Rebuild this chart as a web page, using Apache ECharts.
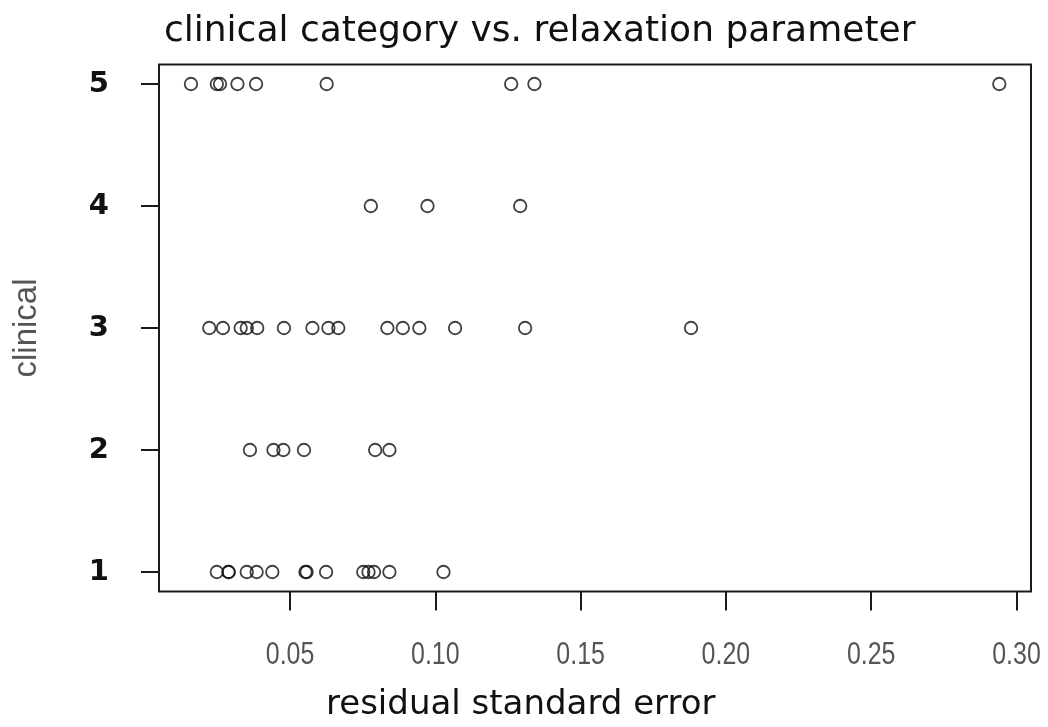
<!DOCTYPE html>
<html>
<head>
<meta charset="utf-8">
<script src="https://cdn.jsdelivr.net/npm/echarts@6/dist/echarts.min.js"></script>
<style>
html,body{margin:0;padding:0;background:#fff;}
#chart{width:1048px;height:727px;}
</style>
</head>
<body>
<div id="chart"></div>
<script>
// residual standard error values for each clinical category
const clinical1 = [0.0248, 0.0288, 0.0289, 0.0351, 0.0385, 0.0439, 0.0553, 0.0557, 0.0624, 0.0752, 0.0770, 0.0789, 0.0842, 0.1028];
const clinical2 = [0.0362, 0.0443, 0.0477, 0.0548, 0.0793, 0.0842];
const clinical3 = [0.0222, 0.0269, 0.0330, 0.0351, 0.0387, 0.0479, 0.0577, 0.0632, 0.0666, 0.0835, 0.0888, 0.0945, 0.1068, 0.1309, 0.1880];
const clinical4 = [0.0778, 0.0973, 0.1292];
const clinical5 = [0.0159, 0.0248, 0.0259, 0.0319, 0.0383, 0.0626, 0.1261, 0.1341, 0.2941];

const categories = [1, 2, 3, 4, 5];
const xTicks = [0.05, 0.10, 0.15, 0.20, 0.25, 0.30];
const xTickLabels = ['0.05', '0.10', '0.15', '0.20', '0.25', '0.30'];
const yTicks = [1, 2, 3, 4, 5];

const titleText = 'clinical category vs. relaxation parameter';
const xName = 'residual standard error';
const yName = 'clinical';

const groups = [clinical1, clinical2, clinical3, clinical4, clinical5];
const points = [];
groups.forEach((arr, i) => arr.forEach(v => points.push([v, categories[i]])));

const chart = echarts.init(document.getElementById('chart'), null, {renderer: 'canvas'});
chart.setOption({
  animation: false,
  backgroundColor: '#ffffff',
  title: [
    {text: titleText, left: 159, top: 9,
     textStyle: {fontFamily: 'DejaVu Sans', fontWeight: 'normal', fontSize: 36, color: '#111'}},
    {text: xName, left: 321, top: 683,
     textStyle: {fontFamily: 'DejaVu Sans', fontWeight: 'normal', fontSize: 34, color: '#111'}}
  ],
  grid: {left: 159, right: 17, top: 64.5, bottom: 135.5, show: true,
         borderColor: '#1a1a1a', borderWidth: 2, backgroundColor: 'transparent'},
  xAxis: {
    type: 'value', min: 0.0049, max: 0.305,
    splitLine: {show: false},
    axisLine: {show: false},
    axisTick: {show: true, length: 19, customValues: xTicks, lineStyle: {color: '#1a1a1a', width: 2}},
    axisLabel: {show: false}
  },
  yAxis: {
    type: 'value', min: 0.84, max: 5.16,
    name: yName, nameLocation: 'middle', nameGap: 116, nameRotate: 90,
    nameTextStyle: {fontFamily: 'Liberation Sans', fontSize: 33, color: '#555'},
    splitLine: {show: false},
    axisLine: {show: false},
    axisTick: {show: true, length: 18, customValues: yTicks, lineStyle: {color: '#1a1a1a', width: 2}},
    axisLabel: {customValues: yTicks, margin: 50, fontFamily: 'DejaVu Sans', fontWeight: 'bold', fontSize: 29, color: '#111',
                formatter: v => String(v)}
  },
  series: [{
    type: 'scatter',
    data: points,
    symbol: 'circle',
    symbolSize: 12.5,
    itemStyle: {color: 'rgba(0,0,0,0)', borderColor: '#111', borderWidth: 1.8}
  }]
});

// x tick labels in a condensed look, positioned through the axis scale
const gridBottom = 727 - 135.5;
const labelEls = xTicks.map((v, i) => {
  const px = chart.convertToPixel({xAxisIndex: 0}, v);
  return {
    type: 'text', x: px, y: gridBottom + 64, scaleX: 0.78, scaleY: 1,
    style: {text: xTickLabels[i], font: '32px "Liberation Sans"', fill: '#555',
            align: 'center', verticalAlign: 'middle'}
  };
});
chart.setOption({graphic: labelEls});
</script>
</body>
</html>
